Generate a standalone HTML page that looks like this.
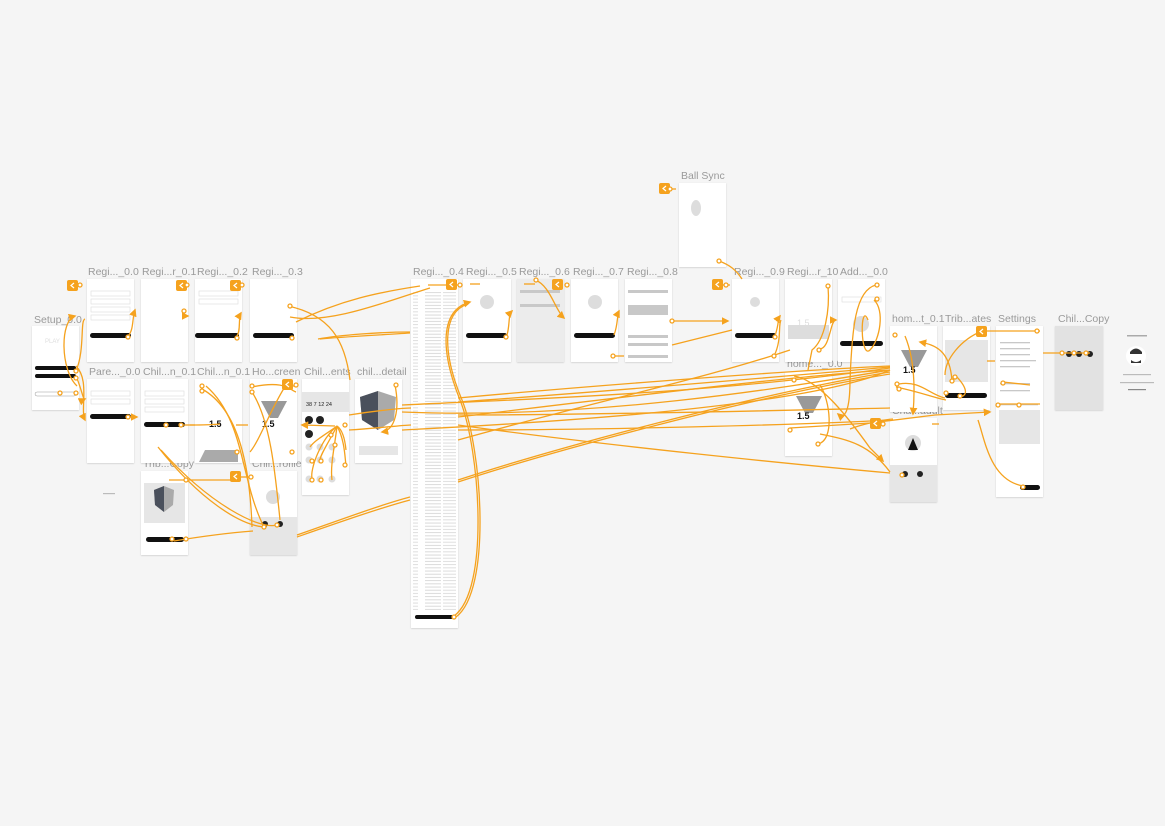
<!DOCTYPE html>
<html><head><meta charset="utf-8"><style>
html,body{margin:0;padding:0;background:#f5f5f5;width:1165px;height:826px;overflow:hidden}
svg{display:block}
.t{font-family:"Liberation Sans",sans-serif;font-size:10.5px;fill:#9a9a9a}
.s{fill:#fff;filter:url(#sh)}
.g{fill:#e6e6e6}
.b{fill:#111}
.ln{fill:none;stroke:#f5a21e;stroke-width:1.3}
.c{fill:#fff;stroke:#f5a21e;stroke-width:1.3}
.bk{fill:#f5a21e}
.tx{fill:#c8c8c8}
</style></head><body>
<svg width="1165" height="826" viewBox="0 0 1165 826" xmlns="http://www.w3.org/2000/svg">
<defs>
<filter id="sh" x="-10%" y="-10%" width="120%" height="120%"><feDropShadow dx="0" dy="0.6" stdDeviation="0.8" flood-color="#000" flood-opacity="0.18"/></filter>
<marker id="ar" viewBox="0 0 10 10" refX="8" refY="5" markerWidth="6" markerHeight="6" orient="auto"><path d="M0,0L10,5L0,10z" fill="#f5a21e"/></marker>
<pattern id="txt" width="47" height="3.2" patternUnits="userSpaceOnUse"><rect x="2" y="1" width="16" height="0.9" fill="#d6d6d6"/><rect x="20" y="1" width="22" height="0.9" fill="#dadada"/></pattern>
</defs>

<g class="t">
<text x="88" y="275">Regi..._0.0</text>
<text x="142" y="275">Regi...r_0.1</text>
<text x="197" y="275">Regi..._0.2</text>
<text x="252" y="275">Regi..._0.3</text>
<text x="413" y="275">Regi..._0.4</text>
<text x="466" y="275">Regi..._0.5</text>
<text x="519" y="275">Regi..._0.6</text>
<text x="573" y="275">Regi..._0.7</text>
<text x="627" y="275">Regi..._0.8</text>
<text x="734" y="275">Regi..._0.9</text>
<text x="787" y="275">Regi...r_10</text>
<text x="840" y="275">Add..._0.0</text>
<text x="681" y="179">Ball Sync</text>
<text x="34" y="323">Setup_0.0</text>
<text x="89" y="375">Pare..._0.0</text>
<text x="143" y="375">Chil...n_0.1</text>
<text x="197" y="375">Chil...n_0.1</text>
<text x="252" y="375">Ho...creen</text>
<text x="304" y="375">Chil...ents</text>
<text x="357" y="375">chil...detail</text>
<text x="143" y="467">Trib...Copy</text>
<text x="252" y="467">Chil...rofile</text>
<text x="787" y="367">home..._0.0</text>
<text x="892" y="322">hom...t_0.1</text>
<text x="892" y="414">Cha...adult</text>
<text x="945" y="322">Trib...ates</text>
<text x="998" y="322">Settings</text>
<text x="1058" y="322">Chil...Copy</text>
</g>

<g>
<rect class="s" x="87" y="279" width="47" height="83"/>
<rect class="s" x="141" y="279" width="47" height="83"/>
<rect class="s" x="195" y="279" width="47" height="83"/>
<rect class="s" x="250" y="279" width="47" height="83"/>
<rect class="s" x="411" y="279" width="47" height="349"/>
<rect x="413" y="290" width="43" height="320" fill="url(#txt)"/>
<rect class="s" x="463" y="279" width="48" height="83"/>
<rect class="s" x="517" y="279" width="47" height="83" style="fill:#ececec"/>
<rect class="s" x="571" y="279" width="47" height="83"/>
<rect class="s" x="625" y="279" width="47" height="83"/>
<rect class="s" x="732" y="279" width="47" height="83"/>
<rect class="s" x="785" y="279" width="47" height="83"/>
<rect class="s" x="838" y="279" width="47" height="83"/>
<rect class="s" x="679" y="183" width="47" height="84"/>
<rect class="s" x="32" y="326" width="47" height="84"/>
<rect class="s" x="87" y="379" width="47" height="84"/>
<rect class="s" x="141" y="379" width="47" height="84"/>
<rect class="s" x="195" y="379" width="47" height="84"/>
<rect class="s" x="250" y="379" width="47" height="84"/>
<rect class="s" x="302" y="379" width="47" height="116"/>
<rect class="s" x="355" y="379" width="47" height="84"/>
<rect class="s" x="141" y="471" width="47" height="84"/>
<rect class="s" x="250" y="471" width="47" height="84"/>
<rect class="s" x="785" y="372" width="47" height="84"/>
<rect class="s" x="890" y="326" width="47" height="86"/>
<rect class="s" x="890" y="418" width="47" height="84"/>
<rect class="s" x="943" y="326" width="47" height="84"/>
<rect class="s" x="996" y="326" width="47" height="171"/>
<rect class="s" x="1055" y="326" width="48" height="84" style="fill:#e2e2e2"/>
</g>

<g>
<rect class="b" x="90" y="333" width="41" height="5" rx="2.5"/>
<rect class="b" x="195" y="333" width="44" height="5" rx="2.5"/>
<rect class="b" x="253" y="333" width="41" height="5" rx="2.5"/>
<rect class="b" x="466" y="333" width="41" height="5" rx="2.5"/>
<rect class="b" x="574" y="333" width="41" height="5" rx="2.5"/>
<rect class="b" x="735" y="333" width="41" height="5" rx="2.5"/>
<rect class="b" x="840" y="341" width="43" height="5" rx="2.5"/>
<rect class="b" x="90" y="414" width="41" height="5" rx="2.5"/>
<rect class="b" x="144" y="422" width="41" height="5" rx="2.5"/>
<rect class="b" x="945" y="393" width="42" height="5" rx="2.5"/>
<rect class="b" x="146" y="537" width="38" height="5" rx="2.5"/>
<rect class="b" x="1020" y="485" width="20" height="5" rx="2.5"/>
<rect class="b" x="415" y="615" width="38" height="4" rx="2"/>
<rect class="b" x="35" y="366" width="41" height="4" rx="2"/>
<rect class="b" x="35" y="374" width="41" height="4" rx="2"/>
<rect x="35" y="392" width="41" height="4" rx="2" fill="#fff" stroke="#999" stroke-width=".5"/>
<text x="45" y="343" font-family="Liberation Sans" font-size="6" fill="#ddd">PLAY</text>
<circle cx="487" cy="302" r="7" fill="#ddd"/>
<circle cx="595" cy="302" r="7" fill="#ddd"/>
<circle cx="755" cy="302" r="5" fill="#ddd"/>
<ellipse cx="696" cy="208" rx="5" ry="8" fill="#ddd"/>
<rect x="788" y="325" width="41" height="14" fill="#ddd"/>
<circle cx="861" cy="324" r="8" fill="#ddd"/>
<path d="M261,401 L287,401 L278,418 L270,418z" fill="#999"/>
<path d="M796,396 L822,396 L813,413 L805,413z" fill="#999"/>
<path d="M901,350 L927,350 L918,367 L910,367z" fill="#999"/>
<text x="262" y="427" font-family="Liberation Sans" font-size="9" font-weight="bold" fill="#111">1.5</text>
<text x="209" y="427" font-family="Liberation Sans" font-size="9" font-weight="bold" fill="#111">1.5</text>
<text x="797" y="419" font-family="Liberation Sans" font-size="9" font-weight="bold" fill="#111">1.5</text>
<text x="903" y="373" font-family="Liberation Sans" font-size="9" font-weight="bold" fill="#111">1.5</text>
<text x="797" y="326" font-family="Liberation Sans" font-size="9" fill="#ddd">1.5</text>
<path d="M199,462 L205,450 L238,450 L238,462z" fill="#aaa"/>
<rect x="302" y="392" width="47" height="20" class="g"/>
<text x="306" y="406" font-family="Liberation Sans" font-size="5.5" fill="#222">38  7  12  24</text>
<rect x="945" y="340" width="43" height="42" class="g"/>
<path d="M360,397 L378,391 L396,397 L394,420 L378,430 L362,420z" fill="#aaa"/>
<path d="M360,397 L378,391 L378,430 L362,420z" fill="#4a505c"/>
<rect x="144" y="483" width="41" height="40" class="g"/>
<path d="M154,490 L164,486 L174,490 L173,505 L164,512 L155,505z" fill="#aaa"/>
<path d="M154,490 L164,486 L164,512 L155,505z" fill="#4a505c"/>
<rect x="359" y="446" width="39" height="9" class="g"/>
<rect x="250" y="517" width="47" height="38" class="g"/>
<rect x="890" y="465" width="47" height="37" class="g"/>
<circle cx="273" cy="497" r="7" fill="#ddd"/>
<circle cx="913" cy="443" r="8" fill="#ddd"/>
<path d="M908,450 L913,438 L918,450z" fill="#111"/>
<rect x="999" y="410" width="41" height="34" class="g"/>
<circle cx="1136" cy="356" r="10" fill="#fff"/>
<path d="M1130,352 q6,-7 12,0 v2 h-12z" fill="#333"/>
<path d="M1131,360 q5,4 10,0 v3 h-10z" fill="#333"/>
<rect x="1127" y="335" width="20" height="1.5" fill="#aaa"/>
<rect x="1123" y="374" width="28" height="1.2" fill="#bbb"/>
<rect x="1120" y="382" width="34" height="1.2" fill="#bbb"/>
<rect x="1128" y="389" width="18" height="1.2" fill="#888"/>
<rect x="103" y="493" width="12" height="1.2" fill="#bbb"/>
<g fill="#222"><circle cx="1069" cy="354" r="3"/><circle cx="1079" cy="354" r="3"/><circle cx="1090" cy="354" r="3"/>
<circle cx="309" cy="420" r="4"/><circle cx="320" cy="420" r="4"/><circle cx="309" cy="434" r="4"/>
<circle cx="265" cy="524" r="3"/><circle cx="280" cy="524" r="3"/><circle cx="905" cy="474" r="3"/><circle cx="920" cy="474" r="3"/></g>
<g fill="#ddd"><circle cx="309" cy="447" r="3.5"/><circle cx="320" cy="447" r="3.5"/><circle cx="332" cy="447" r="3.5"/>
<circle cx="309" cy="460" r="3.5"/><circle cx="320" cy="460" r="3.5"/><circle cx="332" cy="460" r="3.5"/>
<circle cx="309" cy="479" r="3.5"/><circle cx="320" cy="479" r="3.5"/><circle cx="332" cy="479" r="3.5"/></g>
<g fill="#fff" stroke="#ddd" stroke-width=".6">
<rect x="91" y="291" width="39" height="5"/><rect x="91" y="299" width="39" height="5"/><rect x="91" y="307" width="39" height="5"/><rect x="91" y="315" width="39" height="5"/>
<rect x="199" y="291" width="39" height="5"/><rect x="199" y="299" width="39" height="5"/>
<rect x="91" y="391" width="39" height="5"/><rect x="91" y="399" width="39" height="5"/>
<rect x="145" y="391" width="39" height="5"/><rect x="145" y="399" width="39" height="5"/><rect x="145" y="407" width="39" height="5"/>
<rect x="842" y="297" width="39" height="5"/>
</g>
<g class="tx"><rect x="628" y="290" width="40" height="3"/><rect x="628" y="305" width="40" height="10"/><rect x="628" y="335" width="40" height="3"/><rect x="628" y="343" width="40" height="3"/><rect x="628" y="355" width="40" height="3"/>
<rect x="520" y="290" width="40" height="3"/><rect x="520" y="304" width="40" height="3"/>
<rect x="1000" y="342" width="30" height="1.3"/><rect x="1000" y="348" width="30" height="1.3"/><rect x="1000" y="354" width="30" height="1.3"/><rect x="1000" y="360" width="36" height="1.3"/><rect x="1000" y="366" width="30" height="1.3"/>
<rect x="1000" y="383" width="30" height="1.3"/><rect x="1000" y="390" width="30" height="1.3"/><rect x="1000" y="404" width="38" height="1.3"/>
</g>
</g>

<g class="ln">
<path d="M72,286 H80" /><path d="M178,286 H188"/><path d="M233,286 H244"/><path d="M289,386 H296"/><path d="M668,189 H676"/><path d="M722,285 H730"/><path d="M932,424 H939"/><path d="M239,477 H249"/><path d="M985,331 H1040"/>
<path d="M128,336 C134,330 132,318 135,310" marker-end="url(#ar)"/>
<path d="M184,316 L188,316" marker-end="url(#ar)"/>
<path d="M237,336 C241,330 238,318 241,313" marker-end="url(#ar)"/>
<path d="M318,339 C340,335 380,332 410,332"/>
<path d="M320,339 C340,337 380,335 410,333"/>
<path d="M290,317 C330,325 390,300 430,288"/>
<path d="M296,322 C340,300 380,292 420,286"/>
<path d="M288,306 C330,315 345,340 350,380"/>
<path d="M77,386 C60,370 60,320 75,316" marker-end="url(#ar)"/>
<path d="M76,371 C85,350 80,320 85,319"/>
<path d="M76,366 C90,380 80,410 85,420" marker-end="url(#ar)"/>
<path d="M76,376 C82,390 83,400 85,399" marker-end="url(#ar)"/>
<path d="M128,417 H137" marker-end="url(#ar)"/>
<path d="M181,425 H195"/><path d="M236,425 H248"/>
<path d="M202,389 C240,410 250,470 252,527"/>
<path d="M206,386 C245,420 240,480 264,527"/>
<path d="M158,447 C200,500 240,525 264,527"/>
<path d="M161,450 C210,505 260,530 277,525"/>
<path d="M174,541 C210,535 240,532 253,531"/>
<path d="M169,480 H232"/>
<path d="M252,392 C270,420 275,470 280,520"/>
<path d="M252,387 C285,380 290,390 296,392"/>
<path d="M286,385 C270,410 260,440 250,452"/>
<path d="M337,426 C320,440 310,470 312,478"/>
<path d="M337,426 C330,440 320,455 320,460"/>
<path d="M337,426 C335,445 330,465 332,480"/>
<path d="M337,426 C325,435 315,440 310,447"/>
<path d="M337,426 C345,440 345,460 346,465"/>
<path d="M337,426 C343,430 345,440 346,450"/>
<path d="M335,426 L302,425" marker-end="url(#ar)"/>
<path d="M395,385 C400,410 395,430 382,432" marker-end="url(#ar)"/>
<path d="M297,535 C340,520 380,505 410,497"/>
<path d="M297,537 C340,522 380,508 410,500"/>
<path d="M454,616 C490,590 480,450 460,400 C440,350 440,310 470,302" marker-end="url(#ar)"/>
<path d="M456,617 C492,590 482,450 462,400 C442,352 442,312 468,304"/>
<path d="M428,285 L458,285"/>
<path d="M470,284 L480,284"/><path d="M524,284 L535,284"/>
<path d="M507,335 C510,325 508,315 512,311" marker-end="url(#ar)"/>
<path d="M535,280 C550,285 555,310 564,318" marker-end="url(#ar)"/>
<path d="M614,335 C618,325 617,315 619,311" marker-end="url(#ar)"/>
<path d="M612,356 H624"/>
<path d="M672,321 H728" marker-end="url(#ar)"/>
<path d="M672,345 L732,330"/>
<path d="M719,261 C730,265 736,270 742,279"/>
<path d="M775,336 C780,320 777,320 780,316" marker-end="url(#ar)"/>
<path d="M774,356 C782,340 778,325 781,320"/>
<path d="M828,286 C830,310 825,340 812,350 L808,370"/>
<path d="M819,349 C830,350 830,320 836,320" marker-end="url(#ar)"/>
<path d="M876,285 C855,290 852,330 850,380 C850,410 845,420 838,414" marker-end="url(#ar)"/>
<path d="M874,300 C885,310 880,340 870,350 C860,360 860,300 868,320"/>
<path d="M458,398 C600,385 800,370 890,366"/>
<path d="M458,402 C600,392 800,375 890,367"/>
<path d="M458,417 C600,400 800,375 890,370"/>
<path d="M458,415 C600,415 800,410 890,408"/>
<path d="M402,405 C500,400 700,395 890,368"/>
<path d="M402,430 C500,425 800,410 890,370"/>
<path d="M402,412 C600,420 800,385 890,370"/>
<path d="M458,430 C600,430 800,425 890,420"/>
<path d="M458,425 C600,445 800,465 890,473" />
<path d="M458,480 C550,450 750,395 890,372"/>
<path d="M458,482 C550,452 750,397 890,374"/>
<path d="M458,440 C600,400 700,380 790,350"/>
<path d="M349,415 C380,410 405,408 411,408"/>
<path d="M349,430 C380,428 405,425 411,425"/>
<path d="M190,425 C200,425 210,425 220,424"/>
<path d="M794,376 C820,380 850,420 870,448 L883,461" marker-end="url(#ar)"/>
<path d="M790,428 L870,423 L935,415 L990,412" marker-end="url(#ar)"/>
<path d="M818,444 C835,440 830,400 820,385"/>
<path d="M850,429 C860,425 880,420 893,419"/>
<path d="M820,434 C850,440 870,445 890,472"/>
<path d="M905,336 C915,360 915,390 913,414" marker-end="url(#ar)"/>
<path d="M899,384 C920,380 930,395 945,398"/>
<path d="M896,387 C920,392 935,398 946,400"/>
<path d="M982,331 C960,340 945,360 945,375" />
<path d="M952,381 C950,350 935,345 920,342" marker-end="url(#ar)"/>
<path d="M955,375 C965,385 970,395 960,397"/>
<path d="M987,361 L995,361"/><path d="M1003,382 L1030,385"/>
<path d="M996,404 L1040,404"/>
<path d="M978,420 C985,440 990,480 1023,486"/>
<path d="M1043,353 H1062"/>
<path d="M1062,353 H1090"/>
</g>

<g>
<rect class="bk" x="67" y="280" width="11" height="11" rx="2"/>
<rect class="bk" x="176" y="280" width="11" height="11" rx="2"/>
<rect class="bk" x="230" y="280" width="11" height="11" rx="2"/>
<rect class="bk" x="282" y="379" width="11" height="11" rx="2"/>
<rect class="bk" x="446" y="279" width="11" height="11" rx="2"/>
<rect class="bk" x="552" y="279" width="11" height="11" rx="2"/>
<rect class="bk" x="659" y="183" width="11" height="11" rx="2"/>
<rect class="bk" x="712" y="279" width="11" height="11" rx="2"/>
<rect class="bk" x="230" y="471" width="11" height="11" rx="2"/>
<rect class="bk" x="870" y="418" width="11" height="11" rx="2"/>
<rect class="bk" x="976" y="326" width="11" height="11" rx="2"/>
<g fill="none" stroke="#fff" stroke-width="1.2">
<path d="M74,283 l-3,2.5 l3,2.5"/><path d="M183,283 l-3,2.5 l3,2.5"/><path d="M237,283 l-3,2.5 l3,2.5"/><path d="M289,382 l-3,2.5 l3,2.5"/><path d="M453,282 l-3,2.5 l3,2.5"/><path d="M559,282 l-3,2.5 l3,2.5"/><path d="M666,186 l-3,2.5 l3,2.5"/><path d="M719,282 l-3,2.5 l3,2.5"/><path d="M237,474 l-3,2.5 l3,2.5"/><path d="M877,421 l-3,2.5 l3,2.5"/><path d="M983,329 l-3,2.5 l3,2.5"/>
</g>
</g>

<g>
<circle class="c" cx="80" cy="285" r="2"/><circle class="c" cx="128" cy="337" r="2"/><circle class="c" cx="187" cy="285" r="2"/><circle class="c" cx="184" cy="311" r="2"/>
<circle class="c" cx="242" cy="285" r="2"/><circle class="c" cx="237" cy="338" r="2"/><circle class="c" cx="290" cy="306" r="2"/><circle class="c" cx="292" cy="338" r="2"/>
<circle class="c" cx="76" cy="371" r="2"/><circle class="c" cx="76" cy="378" r="2"/><circle class="c" cx="60" cy="393" r="2"/><circle class="c" cx="76" cy="393" r="2"/>
<circle class="c" cx="128" cy="417" r="2"/><circle class="c" cx="166" cy="425" r="2"/><circle class="c" cx="181" cy="425" r="2"/>
<circle class="c" cx="202" cy="386" r="2"/><circle class="c" cx="202" cy="391" r="2"/><circle class="c" cx="237" cy="452" r="2"/>
<circle class="c" cx="252" cy="386" r="2"/><circle class="c" cx="252" cy="392" r="2"/><circle class="c" cx="296" cy="385" r="2"/><circle class="c" cx="292" cy="452" r="2"/>
<circle class="c" cx="396" cy="385" r="2"/><circle class="c" cx="345" cy="425" r="2"/>
<circle class="c" cx="186" cy="480" r="2"/><circle class="c" cx="186" cy="539" r="2"/><circle class="c" cx="172" cy="539" r="2"/><circle class="c" cx="264" cy="527" r="2"/><circle class="c" cx="277" cy="525" r="2"/><circle class="c" cx="251" cy="477" r="2"/>
<circle class="c" cx="331" cy="435" r="2"/><circle class="c" cx="335" cy="445" r="2"/><circle class="c" cx="312" cy="461" r="2"/><circle class="c" cx="321" cy="461" r="2"/><circle class="c" cx="312" cy="480" r="2"/><circle class="c" cx="321" cy="480" r="2"/><circle class="c" cx="345" cy="465" r="2"/>
<circle class="c" cx="454" cy="617" r="2"/><circle class="c" cx="460" cy="285" r="2"/><circle class="c" cx="506" cy="337" r="2"/>
<circle class="c" cx="536" cy="280" r="2"/><circle class="c" cx="567" cy="285" r="2"/><circle class="c" cx="613" cy="356" r="2"/>
<circle class="c" cx="672" cy="321" r="2"/><circle class="c" cx="719" cy="261" r="2"/><circle class="c" cx="670" cy="189" r="2"/>
<circle class="c" cx="726" cy="285" r="2"/><circle class="c" cx="775" cy="337" r="2"/><circle class="c" cx="774" cy="356" r="2"/>
<circle class="c" cx="828" cy="286" r="2"/><circle class="c" cx="819" cy="350" r="2"/><circle class="c" cx="877" cy="285" r="2"/><circle class="c" cx="877" cy="299" r="2"/>
<circle class="c" cx="794" cy="380" r="2"/><circle class="c" cx="790" cy="430" r="2"/><circle class="c" cx="818" cy="444" r="2"/>
<circle class="c" cx="895" cy="335" r="2"/><circle class="c" cx="897" cy="384" r="2"/><circle class="c" cx="899" cy="389" r="2"/>
<circle class="c" cx="952" cy="381" r="2"/><circle class="c" cx="946" cy="393" r="2"/><circle class="c" cx="960" cy="396" r="2"/><circle class="c" cx="955" cy="377" r="2"/>
<circle class="c" cx="1037" cy="331" r="2"/><circle class="c" cx="1003" cy="383" r="2"/><circle class="c" cx="998" cy="405" r="2"/><circle class="c" cx="1019" cy="405" r="2"/><circle class="c" cx="1023" cy="487" r="2"/>
<circle class="c" cx="883" cy="424" r="2"/><circle class="c" cx="902" cy="475" r="2"/>
<circle class="c" cx="1062" cy="353" r="2"/><circle class="c" cx="1074" cy="353" r="2"/><circle class="c" cx="1086" cy="353" r="2"/>
</g>
</svg>
</body></html>
